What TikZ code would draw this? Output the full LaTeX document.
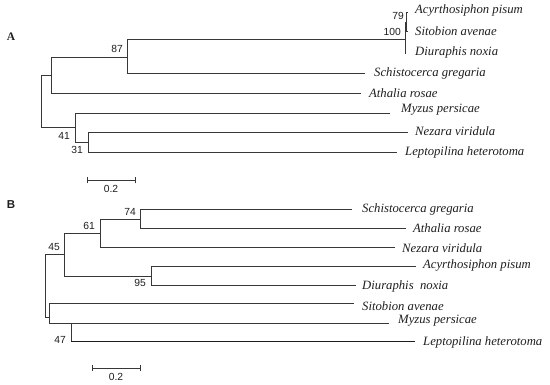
\documentclass[tikz,border=0pt]{standalone}
\usepackage{fontspec}
\setmainfont{Liberation Serif}
\newfontfamily\arialf{Liberation Sans}
\definecolor{branch}{RGB}{55,55,55}
\definecolor{ink}{RGB}{30,30,30}
\begin{document}
\begin{tikzpicture}[x=1pt,y=-1pt,
  edge/.style={draw=branch,line width=0.8pt},
  taxon/.style={anchor=west,inner sep=0pt,text=ink,font=\fontsize{12.7}{14}\selectfont\itshape},
  boot/.style={anchor=east,inner sep=0pt,text=ink,font=\arialf\fontsize{10.3}{11}\selectfont},
  panel/.style={inner sep=0pt,text=ink},
  sbar/.style={draw=branch,line width=0.8pt}]
\useasboundingbox (0,0) rectangle (550,385);
% ---------------- Panel A ----------------
\node[panel,font=\fontsize{11.5}{12}\selectfont\bfseries] (labA) at (11,37) {A};
\coordinate (rA) at (41,101);
\coordinate (uA) at (51,75);
\coordinate (n87) at (127,57);
\coordinate (n100) at (405,39);
\coordinate (n79) at (406.5,22);
\coordinate (lA) at (75,127);
\coordinate (n31) at (88,142);
% leaves
\coordinate (aAcy) at (407.5,12);
\coordinate (aSit) at (407.5,31);
\coordinate (aDiu) at (406,53);
\coordinate (aSch) at (365,73);
\coordinate (aAth) at (361,93);
\coordinate (aMyz) at (390,113);
\coordinate (aNez) at (408,132);
\coordinate (aLep) at (397,152);
\draw[edge] (rA) |- (uA) (rA) |- (lA);
\draw[edge] (uA) |- (n87) (uA) |- (aAth);
\draw[edge] (n87) |- (n100) (n87) |- (aSch);
\draw[edge] (n100) |- (n79) (n100) |- (aDiu);
\draw[edge] (n79) |- (aAcy) (n79) |- (aSit);
\draw[edge] (lA) |- (aMyz) (lA) |- (n31);
\draw[edge] (n31) |- (aNez) (n31) |- (aLep);
\node[taxon] (tAcyA) at (415,10) {Acyrthosiphon pisum};
\node[taxon] (tSitA) at (415,31) {Sitobion avenae};
\node[taxon] (tDiuA) at (415,52) {Diuraphis noxia};
\node[taxon] (tSchA) at (374,73) {Schistocerca gregaria};
\node[taxon] (tAthA) at (369,93) {Athalia rosae};
\node[taxon] (tMyzA) at (401,110) {Myzus persicae};
\node[taxon] (tNezA) at (415,131) {Nezara viridula};
\node[taxon] (tLepA) at (405,152) {Leptopilina heterotoma};
\node[boot] (b79) at (404,16) {79};
\node[boot] (b100) at (401,32) {100};
\node[boot] (b87) at (123,49) {87};
\node[boot] (b41) at (70,136) {41};
\node[boot] (b31) at (83,150) {31};
\coordinate (sA1) at (87,180.5);
\coordinate (sA2) at (135,180.5);
\draw[sbar] (sA1) -- (sA2);
\draw[sbar] ([yshift=-3pt]sA1) -- ([yshift=3pt]sA1);
\draw[sbar] ([yshift=-3pt]sA2) -- ([yshift=3pt]sA2);
\node[boot,anchor=center] (sclA) at (111,188.5) {0.2};
% ---------------- Panel B ----------------
\node[panel,font=\arialf\fontsize{11.5}{12}\selectfont\bfseries] (labB) at (11,205) {B};
\coordinate (rB) at (45,290);
\coordinate (n45) at (64,254);
\coordinate (n61) at (100,233);
\coordinate (n74) at (140,219);
\coordinate (n95) at (151,276);
\coordinate (lB) at (49,317);
\coordinate (n47) at (71,323);
\coordinate (n47b) at (71,342);
% leaves
\coordinate (bSch) at (352,209);
\coordinate (bAth) at (406,228);
\coordinate (bNez) at (395,247);
\coordinate (bAcy) at (416,266);
\coordinate (bDiu) at (356,285);
\coordinate (bSit) at (354,303);
\coordinate (bMyz) at (389,323);
\coordinate (bLep) at (415,342);
\draw[edge] (rB) |- (n45) (rB) |- (lB);
\draw[edge] (n45) |- (n61) (n45) |- (n95);
\draw[edge] (n61) |- (n74) (n61) |- (bNez);
\draw[edge] (n74) |- (bSch) (n74) |- (bAth);
\draw[edge] (n95) |- (bAcy) (n95) |- (bDiu);
\draw[edge] (lB) |- (bSit) (lB) |- (n47);
\draw[edge] (n47) -- (bMyz) (n47) -- (n47b);
\draw[edge,line width=1pt,draw=ink] (n47b) -- (bLep);
\node[taxon] (tSchB) at (362,209) {Schistocerca gregaria};
\node[taxon] (tAthB) at (413,228) {Athalia rosae};
\node[taxon] (tNezB) at (402,248) {Nezara viridula};
\node[taxon] (tAcyB) at (423,265) {Acyrthosiphon pisum};
\node[taxon] (tDiuB) at (362,286) {Diuraphis\ \ noxia};
\node[taxon] (tSitB) at (362,306) {Sitobion avenae};
\node[taxon] (tMyzB) at (398,321) {Myzus persicae};
\node[taxon] (tLepB) at (423,342) {Leptopilina heterotoma};
\node[boot] (b74) at (136,212) {74};
\node[boot] (b61) at (95,226) {61};
\node[boot] (b45) at (60,247) {45};
\node[boot] (b95) at (146,283) {95};
\node[boot] (b47) at (66,340) {47};
\coordinate (sB1) at (92,368);
\coordinate (sB2) at (140,368);
\draw[sbar] (sB1) -- (sB2);
\draw[sbar] ([yshift=-3pt]sB1) -- ([yshift=3pt]sB1);
\draw[sbar] ([yshift=-3pt]sB2) -- ([yshift=3pt]sB2);
\node[boot,anchor=center] (sclB) at (116,377) {0.2};
\end{tikzpicture}
\end{document}
